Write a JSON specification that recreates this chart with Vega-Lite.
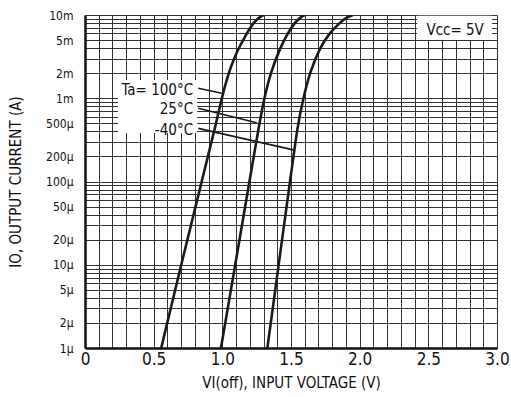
{
  "$schema": "https://vega.github.io/schema/vega-lite/v6.json",
  "width": 412,
  "height": 333,
  "autosize": "none",
  "padding": {"left": 85, "top": 15, "right": 14, "bottom": 49},
  "background": "white",
  "config": {
    "view": {"stroke": null},
    "font": "Liberation Sans Narrow, DejaVu Sans Condensed, Arial Narrow, sans-serif"
  },
  "datasets": {
    "curves": [
      {"series": "100°C", "x": 0.555, "y": 0.000001},
      {"series": "100°C", "x": 0.70, "y": 0.00001},
      {"series": "100°C", "x": 0.85, "y": 0.0001},
      {"series": "100°C", "x": 0.955, "y": 0.0005},
      {"series": "100°C", "x": 0.995, "y": 0.001},
      {"series": "100°C", "x": 1.045, "y": 0.002},
      {"series": "100°C", "x": 1.085, "y": 0.003},
      {"series": "100°C", "x": 1.12, "y": 0.004},
      {"series": "100°C", "x": 1.152, "y": 0.005},
      {"series": "100°C", "x": 1.20, "y": 0.007},
      {"series": "100°C", "x": 1.25, "y": 0.009},
      {"series": "100°C", "x": 1.30, "y": 0.01},
      {"series": "25°C", "x": 0.99, "y": 0.000001},
      {"series": "25°C", "x": 1.094, "y": 0.00001},
      {"series": "25°C", "x": 1.197, "y": 0.0001},
      {"series": "25°C", "x": 1.27, "y": 0.0005},
      {"series": "25°C", "x": 1.305, "y": 0.001},
      {"series": "25°C", "x": 1.35, "y": 0.002},
      {"series": "25°C", "x": 1.42, "y": 0.004},
      {"series": "25°C", "x": 1.475, "y": 0.006},
      {"series": "25°C", "x": 1.525, "y": 0.008},
      {"series": "25°C", "x": 1.565, "y": 0.0093},
      {"series": "25°C", "x": 1.602, "y": 0.01},
      {"series": "-40°C", "x": 1.328, "y": 0.000001},
      {"series": "-40°C", "x": 1.41, "y": 0.00001},
      {"series": "-40°C", "x": 1.493, "y": 0.0001},
      {"series": "-40°C", "x": 1.55, "y": 0.0005},
      {"series": "-40°C", "x": 1.59, "y": 0.001},
      {"series": "-40°C", "x": 1.635, "y": 0.002},
      {"series": "-40°C", "x": 1.708, "y": 0.004},
      {"series": "-40°C", "x": 1.778, "y": 0.006},
      {"series": "-40°C", "x": 1.853, "y": 0.008},
      {"series": "-40°C", "x": 1.90, "y": 0.0093},
      {"series": "-40°C", "x": 1.95, "y": 0.01}
    ],
    "leaders": [
      {"x": 0.825, "y": 0.00132, "x2": 0.996, "y2": 0.00115},
      {"x": 0.825, "y": 0.00076, "x2": 1.25, "y2": 0.000508},
      {"x": 0.825, "y": 0.000435, "x2": 1.517, "y2": 0.00024}
    ],
    "boxes": [
      {"x": 0.24, "x2": 0.816, "y": 0.000383, "y2": 0.00166},
      {"x": 2.418, "x2": 2.964, "y": 0.005, "y2": 0.0098}
    ],
    "tlabels": [
      {"x": 0.787, "y": 0.001256, "text": "Ta= 100°C"},
      {"x": 0.787, "y": 0.000736, "text": "25°C"},
      {"x": 0.787, "y": 0.000416, "text": "-40°C"}
    ],
    "vcc": [
      {"x": 2.695, "y": 0.0066, "text": "Vcc= 5V"}
    ]
  },
  "encoding": {
    "x": {
      "field": "x",
      "type": "quantitative",
      "scale": {"domain": [0, 3], "nice": false, "zero": false},
      "axis": {
        "title": "VI(off), INPUT VOLTAGE (V)",
        "titleFontSize": 15,
        "titleFontWeight": "normal",
        "titleColor": "#111",
        "titlePadding": 8,
        "values": [0, 0.1, 0.2, 0.3, 0.4, 0.5, 0.6, 0.7, 0.8, 0.9, 1.0, 1.1, 1.2, 1.3, 1.4, 1.5, 1.6, 1.7, 1.8, 1.9, 2.0, 2.1, 2.2, 2.3, 2.4, 2.5, 2.6, 2.7, 2.8, 2.9, 3.0],
        "labelExpr": "datum.value == 0 ? '0' : (abs(datum.value * 2 - round(datum.value * 2)) < 0.001 ? format(datum.value, '.1f') : '')",
        "labelFontSize": 17,
        "labelColor": "#111",
        "labelPadding": 3,
        "labelOverlap": false,
        "labelFlush": false,
        "ticks": false,
        "grid": true,
        "gridColor": "#333",
        "gridOpacity": 1,
        "gridWidth": 1,
        "domain": true,
        "domainColor": "#111",
        "domainWidth": 2.5
      }
    },
    "y": {
      "field": "y",
      "type": "quantitative",
      "scale": {"type": "log", "domain": [0.000001, 0.01], "nice": false},
      "axis": {
        "title": "IO, OUTPUT CURRENT (A)",
        "titleFontSize": 15,
        "titleFontWeight": "normal",
        "titleColor": "#111",
        "titlePadding": 22,
        "values": [0.000001, 0.000002, 0.000003, 0.000004, 0.000005, 0.000006, 0.000007, 0.000008, 0.000009, 0.00001, 0.00002, 0.00003, 0.00004, 0.00005, 0.00006, 0.00007, 0.00008, 0.00009, 0.0001, 0.0002, 0.0003, 0.0004, 0.0005, 0.0006, 0.0007, 0.0008, 0.0009, 0.001, 0.002, 0.003, 0.004, 0.005, 0.006, 0.007, 0.008, 0.009, 0.01],
        "labelExpr": "datum.value < 0.00095 ? (indexof([1,2,5,10,20,50,100,200,500], round(datum.value*1000000)) >= 0 ? round(datum.value*1000000) + 'µ' : '') : (indexof([1,2,5,10], round(datum.value*1000)) >= 0 ? round(datum.value*1000) + 'm' : '')",
        "labelFontSize": 12,
        "labelColor": "#111",
        "labelPadding": 12,
        "labelOverlap": false,
        "labelFlush": false,
        "ticks": false,
        "grid": true,
        "gridColor": "#333",
        "gridOpacity": 1,
        "gridWidth": 1,
        "domain": true,
        "domainColor": "#111",
        "domainWidth": 2.5
      }
    }
  },
  "layer": [
    {
      "data": {"name": "boxes"},
      "mark": {"type": "rect", "fill": "white", "stroke": null},
      "encoding": {"x2": {"field": "x2"}, "y2": {"field": "y2"}}
    },
    {
      "data": {"name": "curves"},
      "mark": {"type": "line", "color": "#1a1a1a", "strokeWidth": 2.6, "interpolate": "basis", "clip": true},
      "encoding": {"detail": {"field": "series"}}
    },
    {
      "data": {"name": "leaders"},
      "mark": {"type": "rule", "color": "#1a1a1a", "strokeWidth": 1.6},
      "encoding": {"x2": {"field": "x2"}, "y2": {"field": "y2"}}
    },
    {
      "data": {"name": "tlabels"},
      "mark": {"type": "text", "align": "right", "baseline": "middle", "fontSize": 15, "color": "#111"},
      "encoding": {"text": {"field": "text"}}
    },
    {
      "data": {"name": "vcc"},
      "mark": {"type": "text", "align": "center", "baseline": "middle", "fontSize": 15, "color": "#111"},
      "encoding": {"text": {"field": "text"}}
    }
  ]
}
